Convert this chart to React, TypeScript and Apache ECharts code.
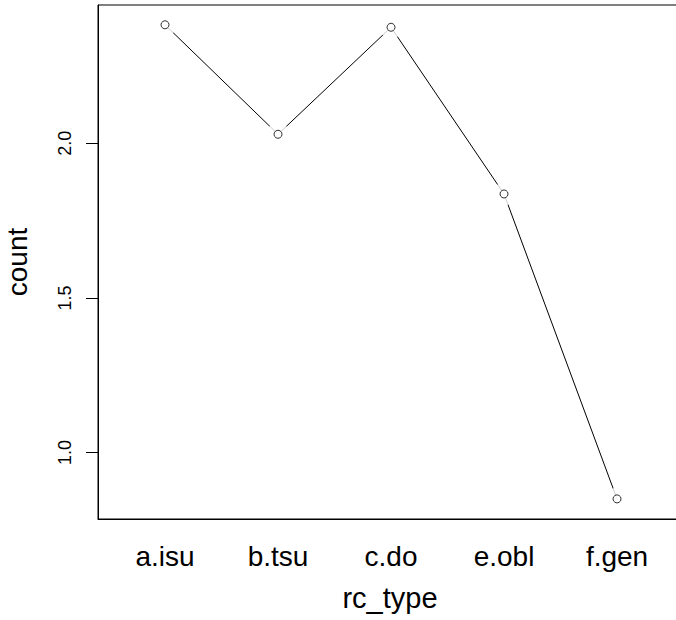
import React, { useEffect, useRef } from "react";
import * as echarts from "echarts";

const categories = ["a.isu", "b.tsu", "c.do", "e.obl", "f.gen"];
const counts = [2.383, 2.029, 2.375, 1.836, 0.85];
const yTicks = [1.0, 1.5, 2.0];
const xTitle = "rc_type";
const yTitle = "count";

export default function App() {
  const ref = useRef<HTMLDivElement>(null);
  useEffect(() => {
    const chart = echarts.init(ref.current!, null, { renderer: "svg" });
    const points = counts.map((v, i) => [i, v]);
    chart.setOption({
      animation: false,
      backgroundColor: "#fff",
      textStyle: { fontFamily: "Liberation Sans, Arial, sans-serif", color: "#000" },
      grid: {
        left: 98,
        top: 5,
        right: -6,
        bottom: 101,
        show: true,
        borderColor: "#000",
        borderWidth: 1,
        containLabel: false,
        outerBoundsMode: "none",
      },
      xAxis: {
        type: "value",
        min: -0.593,
        max: 4.575,
        name: xTitle,
        nameLocation: "middle",
        nameGap: 64,
        nameTextStyle: { fontSize: 29, color: "#000" },
        axisLine: { show: true, onZero: false, lineStyle: { color: "#000", width: 1 } },
        axisTick: { show: false },
        splitLine: { show: false },
        axisLabel: {
          customValues: categories.map((_, i) => i),
          formatter: (v: number) => categories[Math.round(v)] ?? "",
          fontSize: 28,
          color: "#000",
          margin: 23,
        },
      },
      yAxis: {
        type: "value",
        min: 0.785,
        max: 2.447,
        name: yTitle,
        nameLocation: "middle",
        nameGap: 67,
        nameTextStyle: { fontSize: 28, color: "#000" },
        axisLine: { show: true, onZero: false, lineStyle: { color: "#000", width: 1 } },
        axisTick: { show: true, customValues: yTicks, length: 12, lineStyle: { color: "#000" } },
        axisLabel: {
          customValues: yTicks,
          formatter: (v: number) => v.toFixed(1),
          rotate: 90,
          fontSize: 18,
          color: "#000",
          margin: 24,
        },
        splitLine: { show: false },
      },
      series: [
        {
          type: "line",
          data: points,
          showSymbol: false,
          lineStyle: { color: "#000", width: 1 },
          z: 2,
        },
        {
          type: "scatter",
          data: points,
          symbolSize: 23,
          itemStyle: { color: "#fff" },
          z: 3,
          silent: true,
        },
        {
          type: "scatter",
          data: points,
          symbolSize: 8,
          itemStyle: { color: "#fff", borderColor: "#000", borderWidth: 1 },
          z: 4,
        },
      ],
    });
    return () => chart.dispose();
  }, []);
  return (
    <div
      ref={ref}
      style={{ position: "absolute", left: 0, top: 0, width: 676, height: 620 }}
    />
  );
}
